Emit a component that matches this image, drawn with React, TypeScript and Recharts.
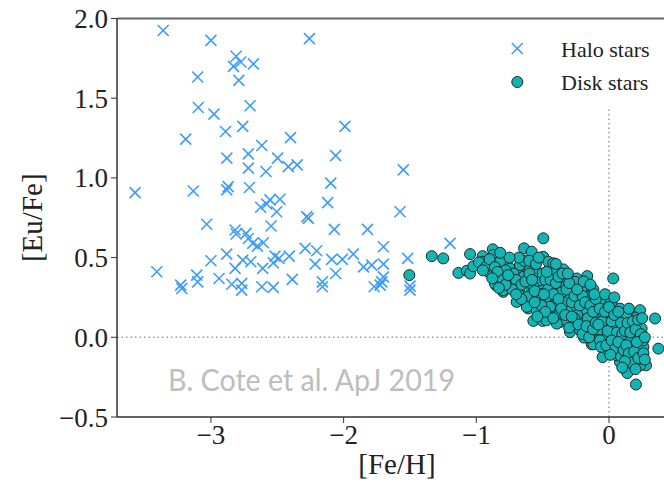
import React from "react";
import {
  ScatterChart,
  Scatter,
  XAxis,
  YAxis,
  ReferenceLine,
  Label,
} from "recharts";

// Halo stars: [Fe/H] and [Eu/Fe]
const haloFeH = [
  -3.36, -3.0, -2.81, -2.83, -2.775, -2.68, -3.1, -2.79, -3.095, -2.977,
  -2.705, -3.19, -2.89, -2.76, -2.617, -2.88, -2.718, -2.718, -2.585,
  -2.258, -1.99, -2.4, -2.06, -2.497, -2.417, -2.35, -1.55, -2.097,
  -3.572, -3.133, -2.881, -2.87, -2.71, -2.625, -3.032, -2.818, -2.81,
  -2.735, -2.718, -2.685, -2.65, -2.605, -2.881, -3.0, -2.76, -2.7,
  -2.818, -2.61, -3.408, -3.107, -3.1, -3.228, -3.22, -2.939, -2.843,
  -2.768, -2.768, -2.617,
  -2.555, -2.48, -2.505, -2.58, -2.12, -1.575, -2.278, -2.266, -2.547,
  -2.07, -1.82, -2.29, -2.203, -1.7, -2.517, -2.487, -2.53, -2.41, -2.09,
  -2.01, -1.927, -2.215, -1.85, -1.788, -1.7, -1.517, -2.06, -1.7, -2.387,
  -1.713, -1.725, -1.77, -2.16, -2.16, -2.53, -1.5, -1.5, -1.198,
];
const haloEuFe = [
  1.925, 1.863, 1.763, 1.7, 1.727, 1.715, 1.633, 1.612, 1.442, 1.4,
  1.453, 1.243, 1.291, 1.323, 1.203, 1.124, 1.151, 1.061, 1.04,
  1.874, 1.323, 1.253, 1.14, 1.124, 1.071, 1.082, 1.05, 0.967,
  0.908, 0.918, 0.925, 0.945, 0.94, 0.816, 0.709, 0.673, 0.648,
  0.652, 0.62, 0.589, 0.572, 0.593, 0.522, 0.48, 0.484, 0.474,
  0.432, 0.432, 0.411, 0.39, 0.348, 0.327, 0.306, 0.369, 0.333,
  0.338, 0.296, 0.317,
  0.862, 0.866, 0.788, 0.836, 0.845, 0.788, 0.757, 0.746, 0.698,
  0.677, 0.677, 0.558, 0.543, 0.568, 0.509, 0.495, 0.467, 0.509, 0.489,
  0.489, 0.522, 0.459, 0.442, 0.453, 0.459, 0.495, 0.4, 0.379, 0.363,
  0.348, 0.327, 0.317, 0.348, 0.317, 0.313, 0.321, 0.296, 0.589,
];

// Disk stars: [Fe/H] and [Eu/Fe]
const diskFeH = [
  -1.505, -1.336, -1.249, -1.047, -1.135, -1.072, -1.047, -1.022, -0.952,
  -0.947, -0.876, -0.872, -0.91, -0.892, -0.834, -0.771, -0.852, -0.797,
  -0.809, -0.746, -0.696, -0.64, -0.583, -0.495, -0.495, -0.621, -0.646,
  -0.684, -0.696, -0.621, -0.608, -0.658, -0.57, -0.5, -0.55, -0.52, -0.47,
  -0.432, -0.445, -0.42, -0.457, -0.59, -0.583, -0.457, -0.407, -0.394,
  0.032, 0.347, 0.372, 0.138, 0.203, 0.279, -0.048, -0.13, -0.188, -0.294,
  -0.164, -0.344, -0.369, 0.234, 0.234, 0.083, 0.158, 0.209, 0.259, 0.234,
  0.196, 0.146, 0.083, 0.008, 0.02, -0.03, -0.08, 0.246, 0.108, 0.02,
  -0.043, -0.068, -0.156, -0.219, -0.269, -0.13, -0.105, -0.194, -0.243,
  -0.332, -0.407, -0.369, -0.281, -0.219, -0.143, -0.243, -0.52, -0.432,
  0.133, 0.183, 0.083, 0.045, 0.108, -0.005, 0.058, 0.158, -0.093,
  -0.42, -0.256, -0.206, -0.118, -0.068, -0.118, -0.369, -0.394, -0.47,
  -0.319, -0.269, -0.369, -0.52, -0.57, -0.62, -0.684, -0.821, -0.797,
  -0.86, -0.821, -0.746, -0.671, -0.595, -0.545, -0.42, -0.319, -0.269,
  -0.168, -0.118, -0.168, -0.093, -0.043, -0.017, 0.032, 0.058, 0.133,
  0.183, 0.209, 0.158, 0.108, 0.045, 0.259, 0.183, -0.068, -0.143, -0.219,
  -0.269, -0.319, -0.394, -0.319, -0.445, -0.52, -0.545, -0.62, -0.47,
  -0.72, -0.7, -0.66, -0.63, -0.6, -0.58, -0.56, -0.64, -0.68, -0.6,
  -0.55, -0.53, -0.78, -0.75, -0.73, -0.66, -0.7,
  -0.5, -0.48, -0.46, -0.44, -0.4, -0.38, -0.36, -0.34, -0.32, -0.3,
  -0.42, -0.38, -0.49, -0.51, -0.48, -0.42, -0.36, -0.33, -0.3, -0.35,
  -0.31, -0.4, -0.47, -0.56, -0.54,
  -0.28, -0.26, -0.24, -0.22, -0.2, -0.18, -0.16, -0.14, -0.12, -0.1,
  -0.26, -0.23, -0.2, -0.17, -0.15, -0.12, -0.1, -0.24, -0.19, -0.14,
  -0.11, -0.28,
  -0.07, -0.05, -0.03, -0.01, 0.0, 0.02, 0.04, 0.06, 0.07, 0.09, 0.1,
  -0.06, -0.02, 0.02, 0.05, 0.07, 0.09, 0.11, -0.03, 0.04, 0.01, -0.08,
  0.12, 0.14, 0.16, 0.18, 0.2, 0.22, 0.24, 0.13, 0.15, 0.17, 0.19, 0.21,
  0.22, 0.26, 0.27, 0.25, 0.2, 0.12, 0.15, 0.27, 0.1,
  -0.98, -0.93, -0.9, -0.86, -0.84, -0.82, -0.8, -0.88, -0.95, -0.78,
  -0.76, -0.83,
];
const diskEuFe = [
  0.39, 0.509, 0.495, 0.522, 0.404, 0.417, 0.4, 0.446, 0.509,
  0.474, 0.552, 0.516, 0.411, 0.464, 0.467, 0.464, 0.327, 0.285,
  0.4, 0.348, 0.426, 0.558, 0.537, 0.621, 0.505, 0.442, 0.379,
  0.306, 0.222, 0.212, 0.181, 0.264, 0.103, 0.103, 0.379, 0.296, 0.338,
  0.149, 0.442, 0.421, 0.474, 0.317, 0.253, 0.233, 0.253, 0.107,
  0.369, 0.118, -0.071, -0.224, -0.296, -0.176, -0.124, -0.044, -0.002, 0.033,
  0.384, 0.426, 0.096, -0.176, -0.134, -0.155, -0.082, -0.061, -0.061, 0.17,
  0.124, 0.166, 0.18, 0.128, 0.222, 0.222, 0.222, 0.055, 0.065, 0.055,
  0.002, 0.048, 0.044, 0.107, 0.17, 0.107, 0.17, 0.191, 0.233,
  0.253, 0.285, 0.338, 0.306, 0.338, 0.296, 0.369, 0.338, 0.191,
  -0.019, 0.013, 0.002, -0.04, -0.103, -0.082, -0.113, -0.134, -0.019,
  0.464, 0.348, 0.306, 0.3, 0.233, -0.044, 0.149, 0.212, 0.253,
  0.253, 0.191, 0.317, 0.358, 0.317, 0.253, 0.275, 0.379, 0.296,
  0.338, 0.474, 0.432, 0.453, 0.432, 0.411, 0.4, 0.369, 0.296,
  0.253, 0.212, 0.17, 0.128, 0.149, 0.086, 0.065, 0.107, 0.128,
  0.065, 0.002, -0.019, -0.061, -0.092, -0.019, -0.124, -0.019, 0.023, 0.044,
  0.086, 0.107, 0.086, 0.17, 0.191, 0.233, 0.17, 0.191, 0.107,
  0.4, 0.36, 0.33, 0.35, 0.4, 0.36, 0.29, 0.48, 0.5, 0.48,
  0.46, 0.5, 0.42, 0.5, 0.3, 0.24, 0.27,
  0.4, 0.36, 0.3, 0.36, 0.34, 0.38, 0.28, 0.22, 0.3, 0.34,
  0.27, 0.24, 0.27, 0.2, 0.16, 0.12, 0.18, 0.14, 0.06, 0.4,
  0.4, 0.46, 0.41, 0.22, 0.13,
  0.22, 0.26, 0.14, 0.2, 0.26, 0.22, 0.12, 0.2, 0.16, 0.24,
  0.12, 0.08, 0.02, 0.07, 0.0, 0.05, 0.09, 0.3, 0.35, 0.33,
  0.27, 0.13,
  0.18, 0.1, 0.16, 0.04, 0.19, 0.1, 0.14, 0.03, 0.16, 0.09, 0.02,
  -0.06, -0.05, -0.02, -0.07, -0.03, -0.12, -0.08, 0.27, 0.25, -0.11, 0.08,
  0.04, 0.09, 0.03, 0.1, 0.05, 0.11, 0.02, -0.05, -0.1, -0.16, -0.09, -0.03,
  -0.13, -0.1, 0.0, 0.12, -0.2, -0.15, 0.18, -0.14, -0.19,
  0.47, 0.44, 0.49, 0.44, 0.41, 0.53, 0.36, 0.37, 0.42, 0.33,
  0.39, 0.31,
];

const xTicks = [-3, -2, -1, 0];
const yTicks = [-0.5, 0, 0.5, 1, 1.5, 2];

const haloData = haloFeH.map((x, i) => ({ x, y: haloEuFe[i] }));
const diskData = diskFeH.map((x, i) => ({ x, y: diskEuFe[i] }));

const HALO_COLOR = "#3d9cff";
const DISK_FILL = "#14b4b4";
const DISK_EDGE = "#1c2a2a";
const SERIF = "'Liberation Serif', 'Times New Roman', serif";

const minus = (s: string) => s.replace("-", "\u2212");

const HaloMarker = (p: any) => {
  const h = 5.5;
  const { cx, cy } = p;
  return (
    <path
      d={`M${cx - h},${cy - h}L${cx + h},${cy + h}M${cx - h},${cy + h}L${cx + h},${cy - h}`}
      stroke={HALO_COLOR}
      strokeWidth={1.6}
      fill="none"
    />
  );
};

const DiskMarker = (p: any) => (
  <circle cx={p.cx} cy={p.cy} r={5.5} fill={DISK_FILL} stroke={DISK_EDGE} strokeWidth={1} />
);

const YLabel = (props: any) => {
  const vb = props.viewBox || {};
  const cy = vb.y + vb.height / 2;
  return (
    <text
      x={32}
      y={cy}
      transform={`rotate(-90, 32, ${cy})`}
      textAnchor="middle"
      dominantBaseline="central"
      fontFamily={SERIF}
      fontSize={29}
      fill="#222"
    >
      [Eu/Fe]
    </text>
  );
};

const XLabel = () => (
  <text x={397} y={474} textAnchor="middle" fontFamily={SERIF} fontSize={29} fill="#222">
    [Fe/H]
  </text>
);

export default function App() {
  const tickStyle = { fontFamily: SERIF, fontSize: 27, fill: "#222" };
  return (
    <div style={{ position: "absolute", left: 0, top: 0, width: 664, height: 483, background: "#fff" }}>
      <ScatterChart width={664} height={483} margin={{ top: 18.5, right: 0, bottom: 0, left: 0 }}>
        <XAxis
          type="number"
          dataKey="x"
          domain={[-3.708, 0.4145]}
          allowDataOverflow
          ticks={xTicks}
          tickFormatter={(v: number) => minus(String(v))}
          height={66}
          tickSize={6}
          tickMargin={2}
          tick={tickStyle}
          axisLine={{ stroke: "#333", strokeWidth: 1.5 }}
          tickLine={{ stroke: "#333" }}
        >
          <Label content={<XLabel />} />
        </XAxis>
        <YAxis
          type="number"
          dataKey="y"
          domain={[-0.5, 2]}
          allowDataOverflow
          ticks={yTicks}
          tickFormatter={(v: number) => minus(v.toFixed(1))}
          width={117}
          tickSize={6}
          tickMargin={3}
          tick={tickStyle}
          axisLine={{ stroke: "#333", strokeWidth: 1.5 }}
          tickLine={{ stroke: "#333" }}
        >
          <Label content={<YLabel />} />
        </YAxis>
        <ReferenceLine y={2} stroke="#666" strokeWidth={2} />
        <ReferenceLine y={0} stroke="#9a9a9a" strokeWidth={1.5} strokeDasharray="1.5 3" />
        <ReferenceLine
          segment={[
            { x: 0, y: -0.5 },
            { x: 0, y: 1.45 },
          ]}
          stroke="#9a9a9a"
          strokeWidth={1.5}
          strokeDasharray="1.5 3"
        />
        <Scatter name="Halo stars" data={haloData} shape={<HaloMarker />} isAnimationActive={false} />
        <Scatter name="Disk stars" data={diskData} shape={<DiskMarker />} isAnimationActive={false} />
      </ScatterChart>
      <svg
        width={664}
        height={483}
        style={{ position: "absolute", left: 0, top: 0, pointerEvents: "none" }}
      >
        <text
          x={168}
          y={391}
          fontFamily="Lato, 'Open Sans', sans-serif"
          fontSize={30}
          fill="#bdbdbd"
          textLength={287}
          lengthAdjust="spacingAndGlyphs"
        >
          B. Cote et al. ApJ 2019
        </text>
        <g>
          <path
            d="M511.8,43L522.8,54M511.8,54L522.8,43"
            stroke={HALO_COLOR}
            strokeWidth={1.6}
          />
          <text x={561} y={57} fontFamily={SERIF} fontSize={22} fill="#222">
            Halo stars
          </text>
          <circle cx={517.3} cy={82} r={5.5} fill={DISK_FILL} stroke={DISK_EDGE} strokeWidth={1} />
          <text x={561} y={90} fontFamily={SERIF} fontSize={22} fill="#222">
            Disk stars
          </text>
        </g>
      </svg>
    </div>
  );
}
